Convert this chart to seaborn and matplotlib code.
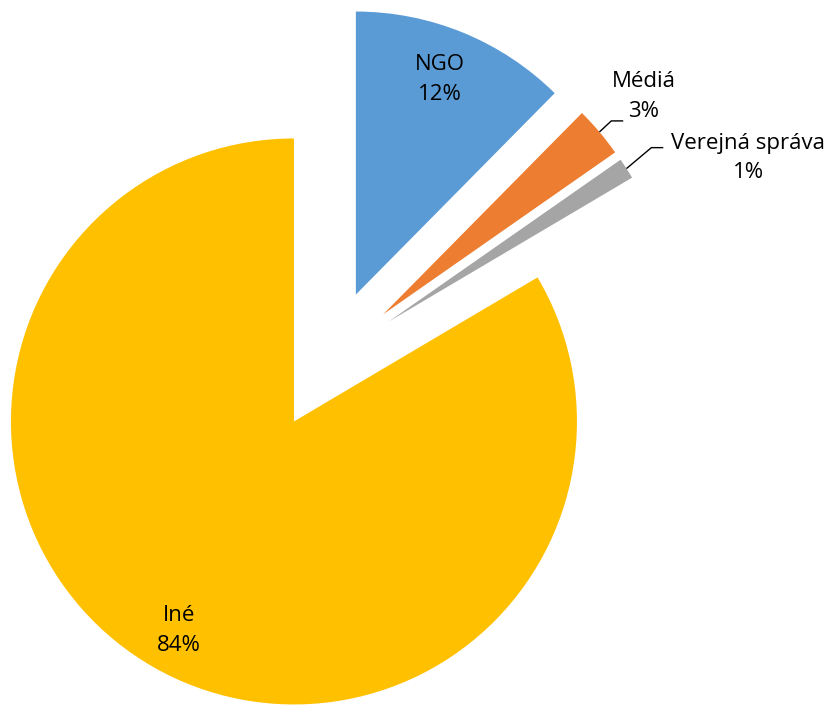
import numpy as np
import matplotlib
matplotlib.use("Agg")
import matplotlib.pyplot as plt
import seaborn as sns

categories = ["NGO", "Médiá", "Verejná správa", "Iné"]
values = [12.4, 2.9, 1.2, 83.5]
pct_labels = ["12%", "3%", "1%", "84%"]
colors = ["#5B9BD5", "#ED7D31", "#A5A5A5", "#FFC000"]

sns.set_theme(style="white")
plt.rcParams["font.family"] = ["Open Sans", "DejaVu Sans"]

W, H = 832, 705
fig = plt.figure(figsize=(W / 100, H / 100), dpi=100)
ax = fig.add_axes([0, 0, 1, 1])

R = 283.0           # radius in pixels
cx, cy = 329.0, 360.0  # pie centre in pixels (from top)

wedges, _ = ax.pie(values, colors=colors, startangle=90, counterclock=False,
                   explode=[0.25] * len(values), radius=1.0,
                   wedgeprops=dict(linewidth=0))
ax.set_xlim(-cx / R, (W - cx) / R)
ax.set_ylim(-(H - cy) / R, cy / R)
ax.set_aspect("auto")
ax.axis("off")

# label block centres (data units)
label_pos = [(0.392, 0.990), (1.113, 0.930), (1.481, 0.714), (-0.530, -0.957)]
fs = 16
for cat, pct, (x, y) in zip(categories, pct_labels, label_pos):
    ax.text(x, y, f"{cat}\n{pct}", ha="center", va="center", fontsize=fs,
            color="black", linespacing=1.55)

# leader lines for small slices (elbow offsets in data units)
leaders = {1: ((0.042, 0.039), 0.042), 2: ((0.088, 0.074), 0.042)}
for i, ((ex, ey), hl) in leaders.items():
    w = wedges[i]
    mid = np.deg2rad((w.theta1 + w.theta2) / 2)
    mx = w.center[0] + w.r * np.cos(mid)
    my = w.center[1] + w.r * np.sin(mid)
    xs = [mx, mx + ex, mx + ex + hl]
    ys = [my, my + ey, my + ey]
    ax.plot(xs, ys, color="black", linewidth=1.0, solid_capstyle="butt")

fig.savefig("out.png", dpi=100, facecolor="white")
